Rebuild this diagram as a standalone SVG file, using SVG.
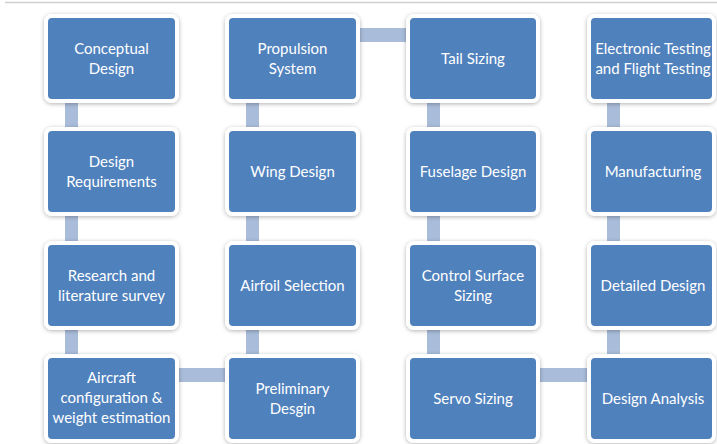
<svg xmlns="http://www.w3.org/2000/svg" width="717" height="444" viewBox="0 0 717 444">
<defs>
<filter id="sh" x="-20%" y="-20%" width="140%" height="140%">
<feDropShadow dx="0" dy="1" stdDeviation="2" flood-color="#000" flood-opacity="0.3"/>
</filter>
<style>
.box{fill:#4F81BD;stroke:#FFFFFF;stroke-width:4;filter:url(#sh)}
.c{fill:#A9BCDA}
.t{font-family:Lato,"Open Sans","Liberation Sans",sans-serif;font-size:15px;fill:#FFFFFF;text-anchor:middle}
</style>
</defs>
<rect width="717" height="444" fill="#FFFFFF"/>
<line x1="5" y1="2.5" x2="717" y2="2.5" stroke="#D0D0D0" stroke-width="1.5"/>
<g id="connectors">
<rect class="c" x="65" y="100" width="13" height="30"/>
<rect class="c" x="65" y="213" width="13" height="31"/>
<rect class="c" x="65" y="327" width="13" height="30"/>
<rect class="c" x="177" y="368" width="51" height="14"/>
<rect class="c" x="246" y="327" width="13" height="30"/>
<rect class="c" x="246" y="213" width="13" height="31"/>
<rect class="c" x="246" y="100" width="13" height="30"/>
<rect class="c" x="358" y="28" width="51" height="14"/>
<rect class="c" x="427" y="100" width="13" height="30"/>
<rect class="c" x="427" y="213" width="13" height="31"/>
<rect class="c" x="427" y="327" width="13" height="30"/>
<rect class="c" x="538" y="368" width="52" height="14"/>
<rect class="c" x="607" y="327" width="13" height="30"/>
<rect class="c" x="607" y="213" width="13" height="31"/>
<rect class="c" x="607" y="100" width="13" height="30"/>
</g>
<g id="n1"><rect class="box" x="46" y="16" width="131" height="85" rx="6"/><text class="t" x="111.5" y="54">Conceptual</text><text class="t" x="111.5" y="74">Design</text></g>
<g id="n2"><rect class="box" x="46" y="129" width="131" height="85" rx="6"/><text class="t" x="111.5" y="167">Design</text><text class="t" x="111.5" y="187">Requirements</text></g>
<g id="n3"><rect class="box" x="46" y="243" width="131" height="85" rx="6"/><text class="t" x="111.5" y="281">Research and</text><text class="t" x="111.5" y="301">literature survey</text></g>
<g id="n4"><rect class="box" x="46" y="356" width="131" height="85" rx="6"/><text class="t" x="111.5" y="383">Aircraft</text><text class="t" x="111.5" y="403">configuration &amp;</text><text class="t" x="111.5" y="423">weight estimation</text></g>
<g id="n5"><rect class="box" x="227" y="356" width="131" height="85" rx="6"/><text class="t" x="292.5" y="394">Preliminary</text><text class="t" x="292.5" y="414">Desgin</text></g>
<g id="n6"><rect class="box" x="227" y="243" width="131" height="85" rx="6"/><text class="t" x="292.5" y="291">Airfoil Selection</text></g>
<g id="n7"><rect class="box" x="227" y="129" width="131" height="85" rx="6"/><text class="t" x="292.5" y="177">Wing Design</text></g>
<g id="n8"><rect class="box" x="227" y="16" width="131" height="85" rx="6"/><text class="t" x="292.5" y="54">Propulsion</text><text class="t" x="292.5" y="74">System</text></g>
<g id="n9"><rect class="box" x="408" y="16" width="130" height="85" rx="6"/><text class="t" x="473" y="64">Tail Sizing</text></g>
<g id="n10"><rect class="box" x="408" y="129" width="130" height="85" rx="6"/><text class="t" x="473" y="177">Fuselage Design</text></g>
<g id="n11"><rect class="box" x="408" y="243" width="130" height="85" rx="6"/><text class="t" x="473" y="281">Control Surface</text><text class="t" x="473" y="301">Sizing</text></g>
<g id="n12"><rect class="box" x="408" y="356" width="130" height="85" rx="6"/><text class="t" x="473" y="404">Servo Sizing</text></g>
<g id="n13"><rect class="box" x="589" y="356" width="125" height="85" rx="6"/><text class="t" x="653" y="404">Design Analysis</text></g>
<g id="n14"><rect class="box" x="589" y="243" width="125" height="85" rx="6"/><text class="t" x="653" y="291">Detailed Design</text></g>
<g id="n15"><rect class="box" x="589" y="129" width="125" height="85" rx="6"/><text class="t" x="653" y="177">Manufacturing</text></g>
<g id="n16"><rect class="box" x="589" y="16" width="125" height="85" rx="6"/><text class="t" x="653" y="54">Electronic Testing</text><text class="t" x="653" y="74">and Flight Testing</text></g>
</svg>
